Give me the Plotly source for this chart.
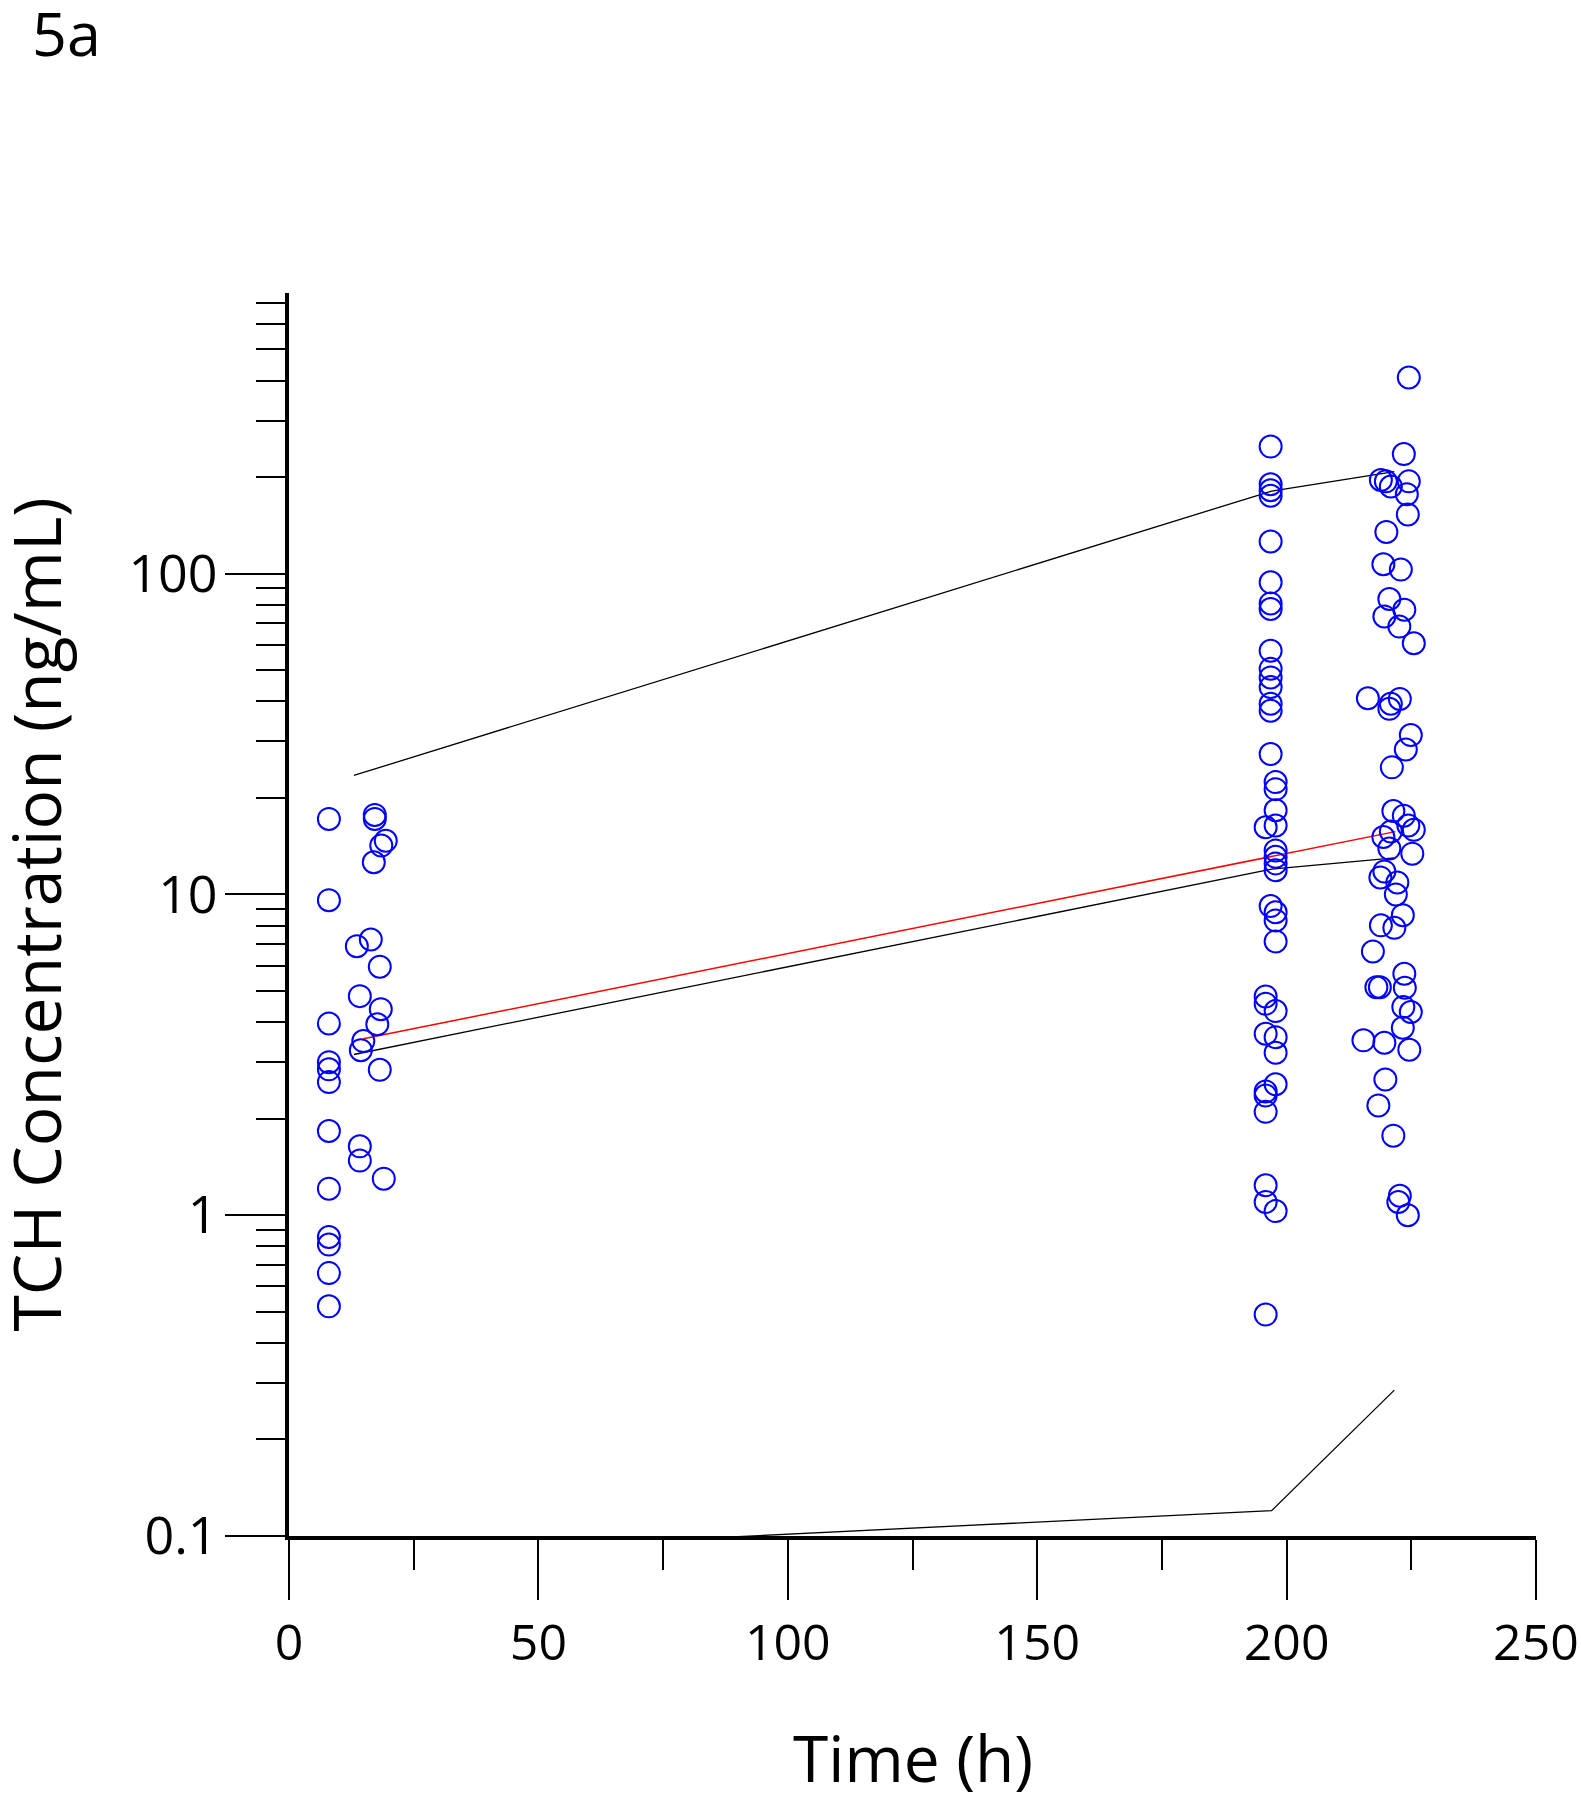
import plotly.graph_objects as go
import math

# ---------------- data ----------------
# observed concentrations (ng/mL) vs time (h)
obs_time = [
    # ~8 h
    8.0, 8.0, 8.0, 8.0, 8.0, 8.0, 8.0, 8.0, 8.0, 8.0, 8.0, 8.0,
    # 13-20 h
    17.2, 17.2, 19.4, 18.5, 17.0, 16.4, 13.6, 18.2, 14.2, 18.4, 17.7, 14.9,
    14.4, 18.2, 14.2, 14.2, 19.0,
    # ~196-198 h
    196.8, 196.8, 196.8, 196.8, 196.8, 196.8, 196.8, 196.8, 196.8, 196.8,
    196.8, 196.8, 196.8, 196.8, 196.8, 197.8, 197.8, 197.8, 195.8, 197.8,
    197.8, 197.8, 197.8, 197.8, 196.8, 197.8, 197.8, 197.8, 195.8, 195.8,
    197.8, 195.8, 197.8, 197.8, 197.8, 195.8, 195.8, 195.8, 195.8, 195.8,
    197.8, 195.8,
    # ~215-226 h
    224.5, 223.5, 218.9, 219.9, 220.9, 224.5, 224.1, 224.3, 220.0, 219.4,
    222.9, 220.6, 223.6, 219.6, 222.6, 225.5, 216.3, 222.7, 220.9, 220.6,
    224.9, 223.9, 221.1,
    221.4, 223.5, 224.4, 225.5, 220.9, 219.4, 220.6, 225.2, 219.6, 218.8,
    222.2, 221.9, 223.3, 218.9, 221.6, 217.3, 223.6, 218.0, 218.7, 223.7,
    223.4, 224.9, 223.3, 215.4, 219.6, 224.6, 219.8, 218.4, 221.4, 222.7,
    222.4, 224.3,
]
obs_conc = [
    17.2, 9.6, 3.96, 3.0, 2.85, 2.6, 1.83, 1.21, 0.855, 0.81, 0.66, 0.52,
    17.7, 17.2, 14.7, 14.2, 12.6, 7.24, 6.9, 5.95, 4.82, 4.39, 3.94, 3.49,
    3.27, 2.84, 1.64, 1.48, 1.30,
    249, 190, 182, 175, 126, 94, 80.8, 77.6, 57.5, 50.5,
    47.5, 44.3, 39.3, 37.4, 27.4, 22.4, 21.3, 18.3, 16.2, 16.4,
    13.7, 13.1, 12.5, 11.9, 9.2, 8.8, 8.3, 7.14, 4.81, 4.56,
    4.33, 3.68, 3.59, 3.21, 2.56, 2.43, 2.36, 2.10, 1.24, 1.10,
    1.03, 0.49,
    409, 236, 196, 194, 187, 194, 177, 153, 135, 107,
    103, 83.4, 77.2, 73.6, 68.4, 60.7, 40.9, 40.7, 39.3, 37.9,
    31.4, 28.3, 24.9,
    18.2, 17.6, 16.4, 15.9, 15.7, 15.1, 13.9, 13.4, 11.8, 11.3,
    10.9, 10.0, 8.62, 8.01, 7.87, 6.64, 5.66, 5.14, 5.14, 5.12,
    4.46, 4.30, 3.84, 3.51, 3.45, 3.28, 2.65, 2.20, 1.77, 1.15,
    1.10, 1.00,
]

# observed median (red)
obs_med_time = [14.9, 197.0, 221.8]
obs_med_conc = [3.55, 13.2, 15.7]

# predicted percentiles (black)
pred_time = [13.0, 197.0, 221.6]
pred_p50 = [3.17, 12.0, 13.0]
pred_p95 = [23.5, 181, 208]
pred_p05 = [0.087, 0.12, 0.285]

# axis ticks
x_major = [0, 50, 100, 150, 200, 250]
x_minor = [25, 75, 125, 175, 225]
y_major = [0.1, 1, 10, 100]
y_major_text = ["0.1", "1", "10", "100"]
y_minor = [m * d for d in (0.1, 1, 10) for m in range(2, 10)] + [200, 300, 400, 500, 600, 700]

# ---------------- figure ----------------
fig = go.Figure()

for ys in (pred_p95, pred_p50, pred_p05):
    fig.add_trace(go.Scatter(x=pred_time, y=ys, mode="lines",
                             line=dict(color="black", width=1.3),
                             showlegend=False, hoverinfo="skip"))

fig.add_trace(go.Scatter(x=obs_med_time, y=obs_med_conc, mode="lines",
                         line=dict(color="#ff0000", width=1.5),
                         showlegend=False))

fig.add_trace(go.Scatter(x=obs_time, y=obs_conc, mode="markers",
                         marker=dict(symbol="circle-open", size=22,
                                     color="#0000ff", line=dict(width=2, color="#0000ff")),
                         showlegend=False))

FONT = "Open Sans"

ML, MR, MT, MB = 289, 45, 293, 264
PW, PH = 1581 - ML - MR, 1800 - MT - MB

fig.update_layout(
    width=1581, height=1800,
    paper_bgcolor="white", plot_bgcolor="white",
    margin=dict(l=ML, r=MR, t=MT, b=MB),
    showlegend=False,
    font=dict(family=FONT, color="black"),
)

fig.update_xaxes(
    range=[0, 250], showgrid=False, zeroline=False, automargin=False,
    showline=True, linewidth=4, linecolor="black",
    tickmode="array", tickvals=x_major,
    ticks="outside", ticklen=60, tickwidth=1.5, tickcolor="black",
    tickfont=dict(family=FONT, size=50, color="black"),
    ticklabelstandoff=0,
    minor=dict(tickmode="array", tickvals=x_minor, ticks="outside",
               ticklen=30, tickwidth=1.5, tickcolor="black"),
)

fig.update_yaxes(
    type="log", range=[-1, math.log10(750)], showgrid=False, zeroline=False,
    automargin=False,
    showline=True, linewidth=4, linecolor="black",
    tickmode="array", tickvals=y_major, ticktext=y_major_text,
    ticks="outside", ticklen=60, tickwidth=1.5, tickcolor="black",
    tickfont=dict(family=FONT, size=52, color="black"),
    ticklabelstandoff=-3,
    minor=dict(tickmode="array", tickvals=y_minor, ticks="outside",
               ticklen=29, tickwidth=1.5, tickcolor="black"),
)

fig.add_annotation(text="TCH Concentration (ng/mL)", xref="paper", yref="paper",
                   x=0, y=0.5, xanchor="center", yanchor="middle",
                   xshift=-255, textangle=-90, showarrow=False,
                   font=dict(family=FONT, size=66, color="black"))
fig.add_annotation(text="Time (h)", xref="paper", yref="paper",
                   x=0.5, y=0, xanchor="center", yanchor="middle",
                   yshift=-221, showarrow=False,
                   font=dict(family=FONT, size=64, color="black"))
fig.add_annotation(text="5a", xref="paper", yref="paper",
                   x=(30 - ML) / PW, y=(MT + PH - 33) / PH,
                   xanchor="left", yanchor="middle", showarrow=False,
                   font=dict(family=FONT, size=61, color="black"))

# remove the default page margin so the figure sits at the window's top-left
fig.write_html("out.html",
               config={"displayModeBar": False},
               post_script="document.body.style.margin='0px';document.body.style.overflow='hidden';")
